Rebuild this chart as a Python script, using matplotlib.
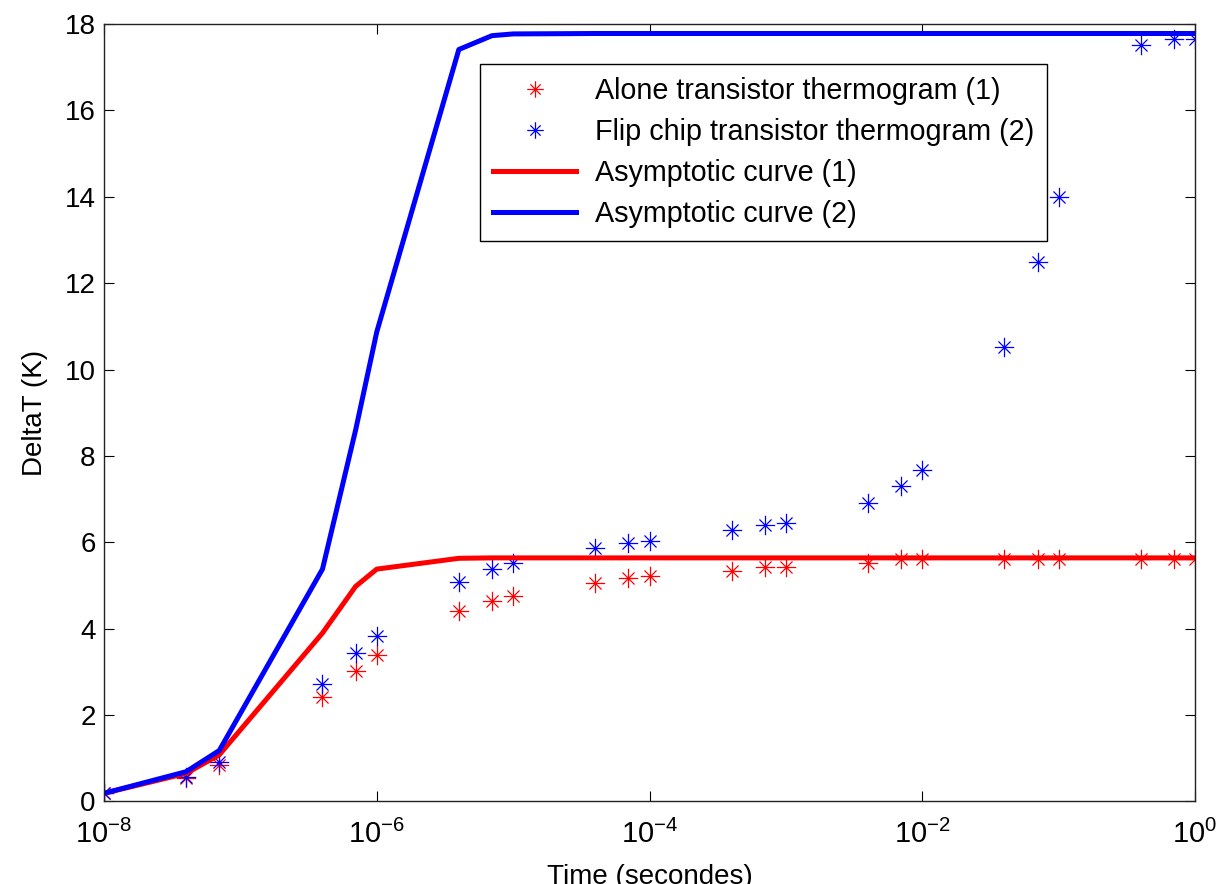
import numpy as np
import matplotlib
matplotlib.use("Agg")
import matplotlib.pyplot as plt
from matplotlib.path import Path
from matplotlib.ticker import FixedLocator, NullLocator, LogFormatterSciNotation

# ---- data ----
time_s = [1e-8, 4e-8, 7e-8, 4e-7, 7e-7, 1e-6, 4e-6, 7e-6, 1e-5, 4e-5, 7e-5, 1e-4,
          4e-4, 7e-4, 1e-3, 4e-3, 7e-3, 1e-2, 4e-2, 7e-2, 1e-1, 4e-1, 7e-1, 1.0]
alone_thermo = [0.19, 0.54, 0.85, 2.43, 3.02, 3.38, 4.40, 4.65, 4.76, 5.06, 5.17, 5.23,
                5.33, 5.44, 5.44, 5.53, 5.61, 5.61, 5.61, 5.61, 5.61, 5.61, 5.61, 5.61]
flip_thermo = [0.19, 0.57, 0.92, 2.72, 3.43, 3.84, 5.07, 5.38, 5.53, 5.88, 5.98, 6.04,
               6.29, 6.39, 6.45, 6.91, 7.31, 7.67, 10.52, 12.50, 13.99, 17.51, 17.66, 17.66]
asym_alone = [0.19, 0.65, 1.08, 3.90, 4.98, 5.38, 5.63, 5.64, 5.64, 5.64, 5.64, 5.64,
              5.64, 5.64, 5.64, 5.64, 5.64, 5.64, 5.64, 5.64, 5.64, 5.64, 5.64, 5.64]
asym_flip = [0.19, 0.69, 1.18, 5.38, 8.60, 10.87, 17.41, 17.73, 17.77, 17.78, 17.78, 17.78,
             17.78, 17.78, 17.78, 17.78, 17.78, 17.78, 17.78, 17.78, 17.78, 17.78, 17.78, 17.78]
labels = ["Alone transistor thermogram (1)", "Flip chip transistor thermogram (2)",
          "Asymptotic curve (1)", "Asymptotic curve (2)"]
x_ticks = [1e-8, 1e-6, 1e-4, 1e-2, 1.0]
y_ticks = [0, 2, 4, 6, 8, 10, 12, 14, 16, 18]

plt.rcParams['font.family'] = ['Liberation Sans', 'DejaVu Sans']
plt.rcParams['mathtext.fontset'] = 'custom'
plt.rcParams['mathtext.rm'] = 'Liberation Sans'
plt.rcParams['mathtext.it'] = 'Liberation Sans'
plt.rcParams['mathtext.bf'] = 'Liberation Sans'
plt.rcParams['axes.unicode_minus'] = False

# Matlab-like asterisk marker: '+' plus shorter 'x'
d = 0.62
ast = Path([(-1, 0), (1, 0), (0, -1), (0, 1), (-d, -d), (d, d), (-d, d), (d, -d)],
           [Path.MOVETO, Path.LINETO] * 4)

fig = plt.figure(figsize=(12.24, 8.84), dpi=100)
ax = fig.add_axes([0.08497, 0.09333, 0.89134, 0.87953])

ax.plot(time_s, alone_thermo, linestyle='none', marker=ast, markersize=14,
        markeredgewidth=0.9, markerfacecolor='none', color=(1, 0, 0), label=labels[0])
ax.plot(time_s, flip_thermo, linestyle='none', marker=ast, markersize=14,
        markeredgewidth=0.9, markerfacecolor='none', color=(0, 0, 1), label=labels[1])
ax.plot(time_s, asym_alone, color=(1, 0, 0), linewidth=3.6, label=labels[2])
ax.plot(time_s, asym_flip, color=(0, 0, 1), linewidth=3.6, label=labels[3])

ax.set_xscale('log')
ax.set_xlim(1e-8, 1.0)
ax.set_ylim(0, 18)
ax.xaxis.set_major_locator(FixedLocator(x_ticks))
ax.xaxis.set_minor_locator(NullLocator())
ax.xaxis.set_major_formatter(LogFormatterSciNotation())
ax.set_yticks(y_ticks)

ax.tick_params(axis='both', which='major', direction='in', length=7, width=0.8,
               top=True, right=True, labelsize=20, colors='black')
ax.tick_params(axis='x', pad=13, labelsize=21)
ax.tick_params(axis='y', pad=6)
for s in ax.spines.values():
    s.set_linewidth(1.0)
    s.set_color('#222222')

ax.set_xlabel('Time (secondes)', fontsize=20, labelpad=11)
ax.set_ylabel('DeltaT (K)', fontsize=20, labelpad=12)

leg = ax.legend(loc='upper left', bbox_to_anchor=(0.3446, 0.9485), borderaxespad=0,
                fontsize=20.7, frameon=True, fancybox=False, framealpha=1,
                edgecolor='black', handlelength=2.9, handletextpad=0.65,
                borderpad=0.45, labelspacing=0.45, markerscale=0.85)
leg.get_frame().set_linewidth(1.0)

fig.savefig('out.png', dpi=100)
